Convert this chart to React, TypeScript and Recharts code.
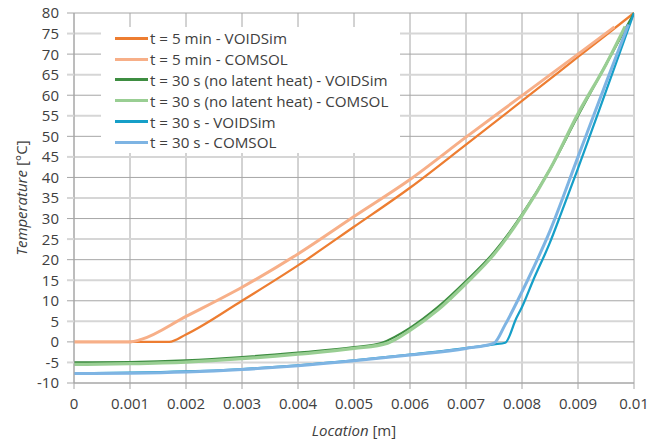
import React from 'react';
import { LineChart, Line, XAxis, YAxis, CartesianGrid, Legend } from 'recharts';

const xTicks = [0, 0.001, 0.002, 0.003, 0.004, 0.005, 0.006, 0.007, 0.008, 0.009, 0.01];
const yTicks = [-10, -5, 0, 5, 10, 15, 20, 25, 30, 35, 40, 45, 50, 55, 60, 65, 70, 75, 80];

const min5VoidX = [0, 0.001, 0.0017, 0.002, 0.003, 0.004, 0.005, 0.006, 0.007, 0.008, 0.009, 0.01];
const min5VoidY = [0, 0, 0, 1.8, 10, 18.6, 28, 37.5, 48, 58.6, 69.3, 80];

const min5ComsolX = [0, 0.001, 0.0012, 0.002, 0.003, 0.004, 0.005, 0.006, 0.007, 0.008, 0.009, 0.00965];
const min5ComsolY = [0, 0, 0.6, 6.2, 13.3, 21.4, 30.5, 39.5, 49.8, 59.9, 70, 76.6];

const noLatVoidX = [0, 0.001, 0.002, 0.003, 0.004, 0.005, 0.0055, 0.006, 0.0065, 0.007, 0.0075, 0.008, 0.0085, 0.009, 0.0095, 0.01];
const noLatVoidY = [-5.0, -4.9, -4.5, -3.7, -2.6, -1.3, -0.2, 3.4, 8.5, 14.8, 21.8, 31, 42, 55, 67.5, 80];

const noLatComsolX = [0, 0.001, 0.002, 0.003, 0.004, 0.005, 0.0056, 0.006, 0.0065, 0.007, 0.0075, 0.008, 0.0085, 0.009, 0.0095, 0.00984];
const noLatComsolY = [-5.5, -5.3, -4.9, -4.1, -3.0, -1.6, -0.3, 2.8, 7.8, 14.2, 21.3, 30.7, 42, 55.5, 67.5, 76.7];

const s30VoidX = [0, 0.001, 0.002, 0.003, 0.004, 0.005, 0.006, 0.007, 0.0075, 0.0077, 0.0079, 0.008, 0.0082, 0.0085, 0.0087, 0.009, 0.0095, 0.01];
const s30VoidY = [-7.6, -7.5, -7.2, -6.6, -5.7, -4.5, -3.1, -1.5, -0.6, -0.2, 5.8, 8.5, 15, 24.2, 31.3, 42.2, 61, 80];

const s30ComsolX = [0, 0.001, 0.002, 0.003, 0.004, 0.005, 0.006, 0.007, 0.0075, 0.0077, 0.008, 0.0081, 0.0085, 0.009, 0.0095, 0.0099];
const s30ComsolY = [-7.7, -7.6, -7.3, -6.7, -5.8, -4.6, -3.2, -1.6, -0.3, 4.2, 12.2, 15, 27, 45, 63, 77.2];

const zip = (xs: number[], ys: number[]) => xs.map((x, i) => ({ x, y: ys[i] }));

const series = [
  { name: 't = 5 min - VOIDSim', color: '#ED7D31', width: 2.25, data: zip(min5VoidX, min5VoidY) },
  { name: 't = 5 min - COMSOL', color: '#F7AF88', width: 3, data: zip(min5ComsolX, min5ComsolY) },
  { name: 't = 30 s (no latent heat) - VOIDSim', color: '#3E8D41', width: 2.25, data: zip(noLatVoidX, noLatVoidY) },
  { name: 't = 30 s (no latent heat) - COMSOL', color: '#99CE93', width: 3.25, data: zip(noLatComsolX, noLatComsolY) },
  { name: 't = 30 s - VOIDSim', color: '#169FC8', width: 2.25, data: zip(s30VoidX, s30VoidY) },
  { name: 't = 30 s - COMSOL', color: '#7EB4E3', width: 3, data: zip(s30ComsolX, s30ComsolY) },
];

const majorY = yTicks.filter((v) => v % 10 === 0);
const minorY = yTicks.filter((v) => v % 10 !== 0);

const FONT = '"Open Sans", sans-serif';
const TEXT = '#404040';
const DARK_GRID = '#A6A6A6';
const LIGHT_GRID = '#D6D6D6';
const PLOT_LEFT = 74;
const FS = 15;

const YTick = (props: any) => {
  const { y, payload } = props;
  const major = payload.value % 10 === 0;
  return (
    <g>
      <line x1={PLOT_LEFT - 7} x2={PLOT_LEFT} y1={y} y2={y} stroke={major ? DARK_GRID : LIGHT_GRID} strokeWidth={major ? 1 : 2} />
      <text x={PLOT_LEFT - 15} y={y} dy="0.36em" textAnchor="end" fill={TEXT} fontSize={FS} fontFamily={FONT}>
        {payload.value}
      </text>
    </g>
  );
};

const LegendBox = () => (
  <div style={{ background: '#fff', width: 299, height: 126, boxSizing: 'border-box', paddingTop: 1, paddingLeft: 14 }}>
    {series.map((s) => (
      <div key={s.name} style={{ height: 20.8, display: 'flex', alignItems: 'center', fontFamily: FONT, fontSize: 15.2, color: TEXT, whiteSpace: 'nowrap' }}>
        <span style={{ display: 'inline-block', width: 33, height: 3, background: s.color, marginRight: 2 }} />
        <span>{s.name}</span>
      </div>
    ))}
  </div>
);

export default function App() {
  return (
    <div style={{ position: 'absolute', left: 0, top: 0 }}>
      <LineChart width={660} height={443} margin={{ top: 13, right: 26, bottom: 30, left: 24 }}>
        <CartesianGrid horizontal={false} stroke={DARK_GRID} />
        <CartesianGrid vertical={false} horizontalValues={minorY} stroke={LIGHT_GRID} strokeWidth={2} />
        <CartesianGrid vertical={false} horizontalValues={majorY} stroke={DARK_GRID} />
        <XAxis
          type="number"
          dataKey="x"
          domain={[0, 0.01]}
          ticks={xTicks}
          interval={0}
          allowDataOverflow
          height={30}
          tickSize={6}
          tickMargin={9}
          stroke={DARK_GRID}
          tick={{ fill: TEXT, fontSize: FS, fontFamily: FONT }}
          tickFormatter={(v: number) => String(v)}
          label={{
            position: 'insideBottom',
            content: () => (
              <text x={354} y={436} textAnchor="middle" fill={TEXT} fontSize={FS} fontFamily={FONT}>
                <tspan fontStyle="italic">Location</tspan> [m]
              </text>
            ),
          }}
        />
        <YAxis
          type="number"
          dataKey="y"
          domain={[-10, 80]}
          ticks={yTicks}
          interval={0}
          width={50}
          tickLine={false}
          stroke={DARK_GRID}
          tick={<YTick />}
          label={{
            position: 'insideLeft',
            content: () => (
              <text x={27} y={198} transform="rotate(-90 27 198)" textAnchor="middle" fill={TEXT} fontSize={FS} fontFamily={FONT}>
                <tspan fontStyle="italic">Temperature</tspan> [°C]
              </text>
            ),
          }}
        />
        <Legend
          layout="vertical"
          align="center"
          verticalAlign="middle"
          content={() => <LegendBox />}
          wrapperStyle={{ left: 101, top: 27, width: 299, height: 126 }}
        />
        {series.map((s) => (
          <Line
            key={s.name}
            data={s.data}
            dataKey="y"
            name={s.name}
            type="monotone"
            stroke={s.color}
            strokeWidth={s.width}
            dot={false}
            activeDot={false}
            isAnimationActive={false}
          />
        ))}
      </LineChart>
    </div>
  );
}
